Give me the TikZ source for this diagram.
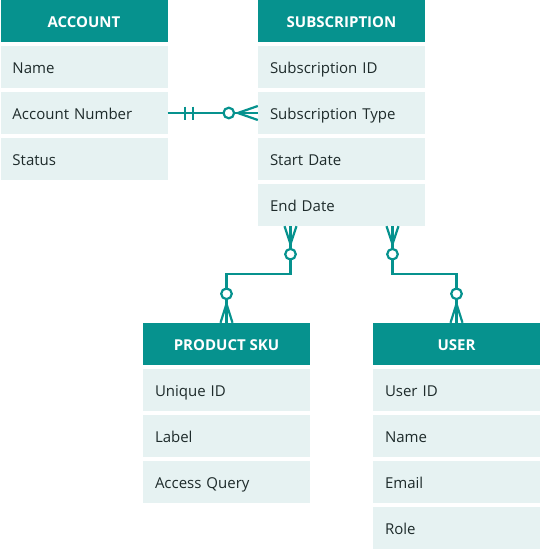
\documentclass[tikz,border=0pt]{standalone}
\usepackage{fontspec}
\setmainfont{Open Sans}
\definecolor{erteal}{HTML}{06928E}
\definecolor{errow}{HTML}{E6F2F2}
\definecolor{ertext}{HTML}{1E2B2B}
\tikzset{
	hdr/.style={fill=erteal, text=white, font=\fontsize{15}{18}\selectfont\bfseries, minimum width=167pt, minimum height=42pt, inner sep=0pt, text height=13pt, text depth=0pt},
	row/.style={fill=errow, text=ertext, font=\fontsize{15}{18}\selectfont, minimum height=42pt, text width=143pt, inner xsep=12pt, inner ysep=0pt, align=left, text height=13pt, text depth=0pt},
	link/.style={draw=erteal, line width=2.2pt},
	ring/.style={draw=erteal, line width=2.2pt, fill=white}
}
\begin{document}
\begin{tikzpicture}[x=1pt, y=-1pt]
		\useasboundingbox (0,0) rectangle (540,549);
		\node[hdr] (acc) at (84,21) {ACCOUNT};
		\node[row] (accname) at (84,67) {Name};
		\node[row] (accnum) at (84,113) {Account Number};
		\node[row] (accstatus) at (84,159) {Status};

		\node[hdr] (sub) at (341.5,21) {SUBSCRIPTION};
		\node[row] (subid) at (341.5,67) {Subscription ID};
		\node[row] (subtype) at (341.5,113) {Subscription Type};
		\node[row] (substart) at (341.5,159) {Start Date};
		\node[row] (subend) at (341.5,205) {End Date};

		\node[hdr] (sku) at (226.5,344) {PRODUCT SKU};
		\node[row] (skuid) at (226.5,390) {Unique ID};
		\node[row] (skulabel) at (226.5,436) {Label};
		\node[row] (skuquery) at (226.5,482) {Access Query};

		\node[hdr] (usr) at (456.5,344) {USER};
		\node[row] (usrid) at (456.5,390) {User ID};
		\node[row] (usrname) at (456.5,436) {Name};
		\node[row] (usremail) at (456.5,482) {Email};
		\node[row] (usrrole) at (456.5,528) {Role};

		\draw[link] (accnum.east) -- (subtype.west);
		\draw[link] ([xshift=17pt,yshift=6.5pt]accnum.east) -- ([xshift=17pt,yshift=-6.5pt]accnum.east);
		\draw[link] ([xshift=25pt,yshift=6.5pt]accnum.east) -- ([xshift=25pt,yshift=-6.5pt]accnum.east);
		\draw[link] ([yshift=7pt]subtype.west) -- ([xshift=-20pt]subtype.west) -- ([yshift=-7pt]subtype.west);
		\draw[ring] ([xshift=-29pt]subtype.west) circle [radius=5.3pt];

		\coordinate (endl) at ([xshift=-51pt]subend.south);
		\coordinate (endr) at ([xshift=51pt]subend.south);

		\draw[link] (endl) -- ++(0,48) -| (sku.north);
		\draw[link] ([xshift=-6pt]endl) -- ([yshift=-18pt]endl) -- ([xshift=6pt]endl);
		\draw[link] ([xshift=-6pt]sku.north) -- ([yshift=19pt]sku.north) -- ([xshift=6pt]sku.north);
		\draw[ring] ([yshift=-28pt]endl) circle [radius=5.3pt];
		\draw[ring] ([yshift=29pt]sku.north) circle [radius=5.3pt];

		\draw[link] (endr) -- ++(0,48) -| (usr.north);
		\draw[link] ([xshift=-6pt]endr) -- ([yshift=-18pt]endr) -- ([xshift=6pt]endr);
		\draw[link] ([xshift=-6pt]usr.north) -- ([yshift=19pt]usr.north) -- ([xshift=6pt]usr.north);
		\draw[ring] ([yshift=-28pt]endr) circle [radius=5.3pt];
		\draw[ring] ([yshift=29pt]usr.north) circle [radius=5.3pt];
	\end{tikzpicture}
\end{document}
